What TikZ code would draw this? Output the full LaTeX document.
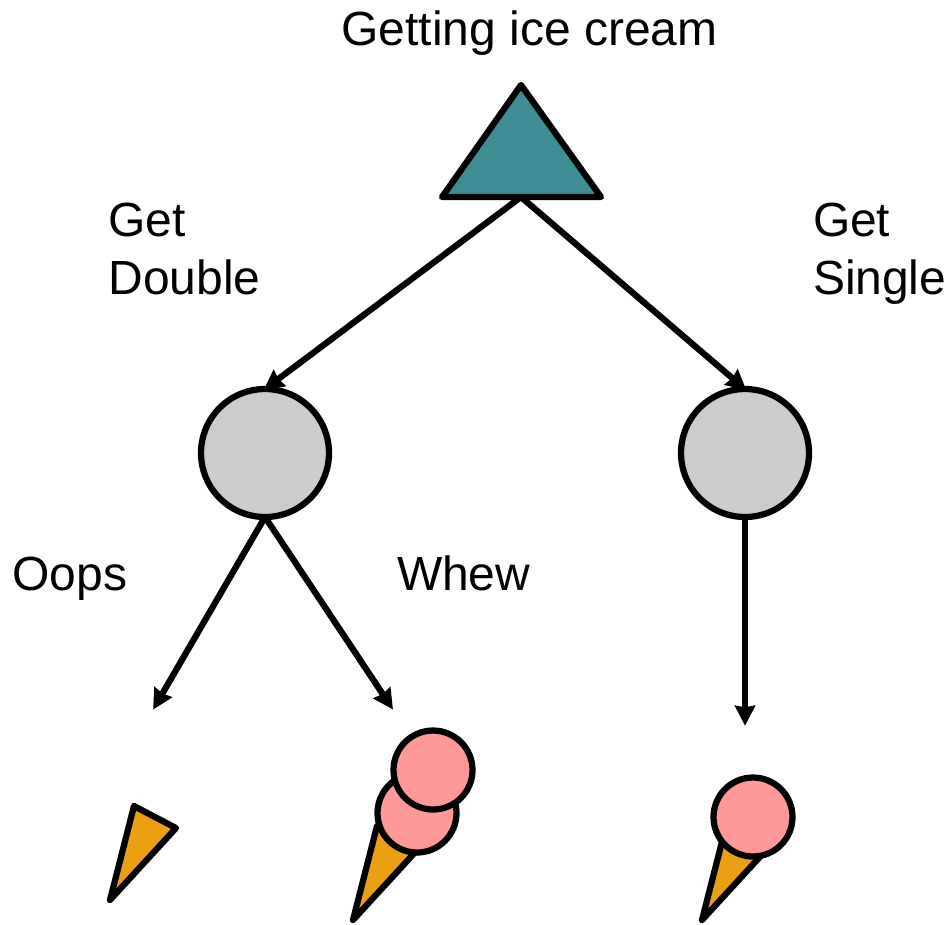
\documentclass[tikz,border=0pt]{standalone}
\usepackage{fontspec}
\setmainfont{Liberation Sans}
\usepackage{xcolor}
\usetikzlibrary{arrows.meta, positioning}
\definecolor{rootteal}{RGB}{62, 140, 148}
\definecolor{chancegray}{RGB}{204, 204, 204}
\definecolor{scooppink}{RGB}{255, 153, 153}
\definecolor{coneorange}{RGB}{235, 160, 20}

\begin{document}
\begin{tikzpicture}[
  x=0.02cm, y=-0.02cm,
  every node/.style={font=\fontsize{27.3}{33}\selectfont},
  chance/.style={
    circle, draw=black, fill=chancegray, line width=0.125cm,
    minimum size=2.56cm, inner sep=0pt, outer sep=0pt
  },
  scoop/.style={
    circle, draw=black, fill=scooppink, line width=0.125cm,
    minimum size=1.58cm, inner sep=0pt, outer sep=0pt
  },
  cone/.style={draw=black, fill=coneorange, line width=0.125cm, line join=round},
  arrow/.style={-{Stealth[length=0.4cm, width=0.4cm, inset=0.03cm]}, line width=0.125cm, shorten >=-1pt},
  label/.style={anchor=base west, inner sep=0pt, outer sep=0pt, align=left}
]
  \useasboundingbox (0,0) rectangle (949,924);

  % Root of the tree
  \draw[cone, fill=rootteal] (521,85) -- (601,197) -- (442,197) -- cycle;
  \coordinate (root) at (521,197);

  % Chance nodes
  \node[chance] (double) at (265,453) {};
  \node[chance] (single) at (745,453) {};

  % Free ends of the lower arrows
  \coordinate (oopsend) at (154,708);
  \coordinate (whewend) at (392,708);
  \coordinate (singleend) at (745,724);

  % Cones
  \draw[cone] (134,806) -- (176,828) -- (110,900) -- cycle;
  \draw[cone] (377,826) -- (419,848) -- (353,920) -- cycle;
  \draw[cone] (726,826) -- (768,848) -- (702,920) -- cycle;

  % Scoops
  \node[scoop] (lower) at (417,813) {};
  \node[scoop] (upper) at (433,770) {};
  \node[scoop] (one) at (753,817) {};

  % Arrows
  \draw[arrow] (root) -- (double.north);
  \draw[arrow] (root) -- (single.north);
  \draw[arrow] (double.south) -- (oopsend);
  \draw[arrow] (double.south) -- (whewend);
  \draw[arrow] (single.south) -- (singleend);

  % Labels
  \node[label] (title) at (341.5,45) {Getting ice cream};
  \node[label] (getdouble) at (108.5,236) {Get};
  \node[label] (getdoubleb) at (108.5,294) {Double};
  \node[label] (getsingle) at (813,236) {Get};
  \node[label] (getsingleb) at (813,294) {Single};
  \node[label] (oops) at (12.5,590) {Oops};
  \node[label] (whew) at (397,590) {Whew};
\end{tikzpicture}
\end{document}
